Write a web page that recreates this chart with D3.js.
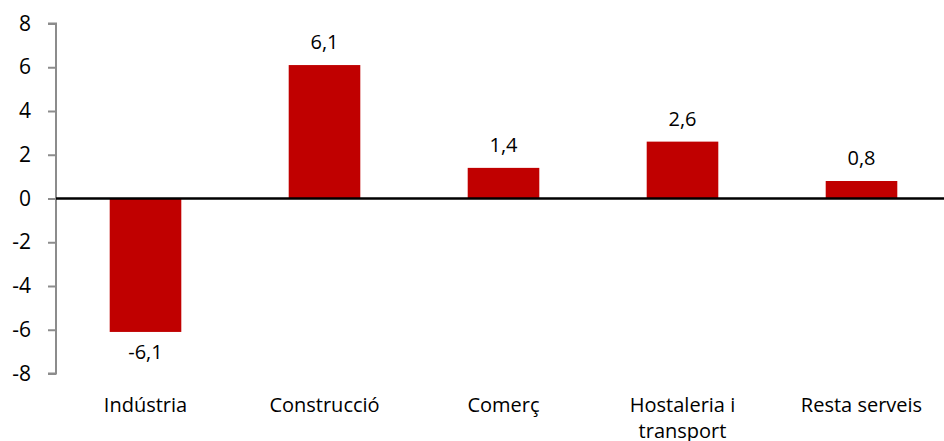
<!DOCTYPE html>
<html><head><meta charset="utf-8">
<script src="https://cdn.jsdelivr.net/npm/d3@7"></script>
<style>body{margin:0;background:#fff}svg{display:block}text{font-family:"Open Sans",sans-serif;fill:#000}</style>
</head><body><svg id="c" width="944" height="441"></svg>
<script>
const categories = ["Indústria","Construcció","Comerç","Hostaleria i transport","Resta serveis"];
const values = [-6.1, 6.1, 1.4, 2.6, 0.8];
const yTicks = [-8,-6,-4,-2,0,2,4,6,8];
const svg = d3.select("#c");
const x = d3.scaleBand().domain(categories).range([56, 951]).padding(0);
const y = d3.scaleLinear().domain([-8, 8]).range([373.5, 23.5]);
const bw = x.bandwidth() * 0.4;
const fmt = v => d3.format(".1f")(v).replace(".", ",").replace("\u2212", "-");

// y axis
const ax = svg.append("g").attr("transform","translate(56,0)")
  .call(d3.axisLeft(y).tickValues(yTicks).tickSize(8).tickFormat(d => String(d)));
ax.select(".domain").attr("stroke","#8c8c8c").attr("stroke-width",2).attr("d","M-8,"+y(8)+"H0V"+y(-8)+"H-8");
ax.selectAll(".tick line").attr("stroke","#8c8c8c").attr("stroke-width",2);
ax.selectAll(".tick text").style("font-size","21px").attr("fill","#000").attr("x",-25);

// bars
svg.selectAll("rect.bar").data(values).enter().append("rect")
  .attr("x",(d,i)=>x(categories[i]) + x.bandwidth()/2 - bw/2)
  .attr("width",bw)
  .attr("y",d=>y(Math.max(0,d)))
  .attr("height",d=>Math.abs(y(d)-y(0)))
  .attr("fill","#c00000");

// zero line
svg.append("line").attr("x1",56).attr("x2",944).attr("y1",y(0)).attr("y2",y(0))
  .attr("stroke","#000").attr("stroke-width",2.5);

// value labels
svg.selectAll("text.val").data(values).enter().append("text")
  .attr("x",(d,i)=>x(categories[i]) + x.bandwidth()/2)
  .attr("y",d=> d>=0 ? y(d)-16 : y(d)+27)
  .attr("text-anchor","middle").style("font-size","20px")
  .text(fmt);

// category labels
const cat = svg.selectAll("text.cat").data(categories).enter().append("text")
  .attr("text-anchor","middle").style("font-size","20px")
  .attr("transform",d=>"translate("+(x(d)+x.bandwidth()/2)+",412)");
cat.each(function(d){
  const t = d3.select(this);
  const lines = d==="Hostaleria i transport" ? ["Hostaleria i","transport"] : [d];
  lines.forEach((l,i)=>t.append("tspan").attr("x",0).attr("dy",i?26:0).text(l));
});
</script></body></html>
